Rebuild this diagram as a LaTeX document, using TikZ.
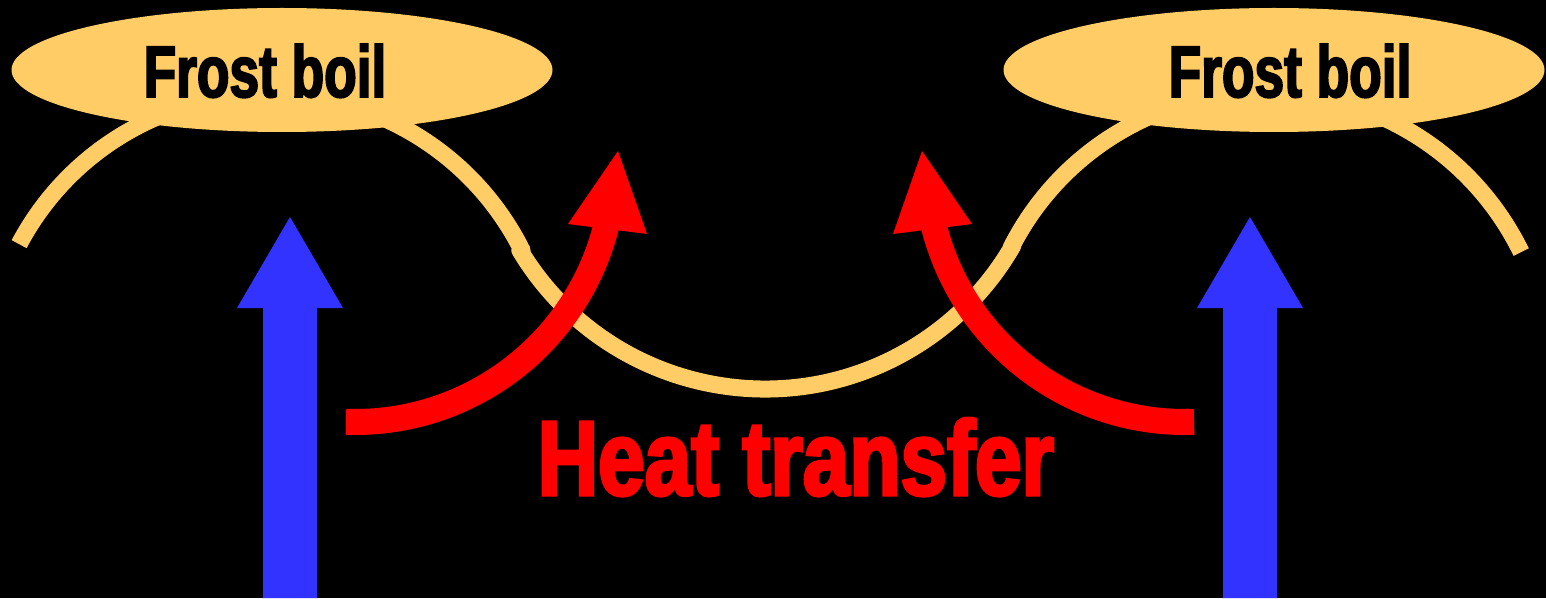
\documentclass[tikz,border=0pt]{standalone}
\usepackage{fontspec}
\usetikzlibrary{shapes.geometric}
\newfontfamily\fbfont[FakeStretch=0.73,FakeBold=2.5]{Liberation Sans Bold}
\newfontfamily\htfont[FakeStretch=0.79,FakeBold=3]{Liberation Sans Bold}
\definecolor{frost}{HTML}{FFCC66}
\definecolor{heatred}{HTML}{FF0000}
\definecolor{upblue}{HTML}{3333FF}
\tikzset{
  soil/.style={draw=frost, line width=17pt, line join=round},
  boil/.style={ellipse, fill=frost, inner sep=0pt, minimum width=541pt, minimum height=124pt},
  boiltext/.style={anchor=base, inner sep=0pt, font=\fbfont\fontsize{73}{73}\selectfont, text=black},
  heatshaft/.style={draw=heatred, line width=26pt},
  heathead/.style={fill=heatred},
  upflow/.style={fill=upblue},
  heattext/.style={anchor=base, inner sep=0pt, font=\htfont\fontsize{106}{106}\selectfont, text=heatred}
}
\begin{document}
\begin{tikzpicture}[x=1pt,y=1pt]
\fill[black] (0,0) rectangle (1546,598);
\useasboundingbox (0,0) rectangle (1546,598);
% ground surface
\draw[soil] (269,221) ++(152:283) arc[start angle=152, end angle=26.5, radius=283]
  -- ([shift={(211:286)}]765,495) arc[start angle=211, end angle=330, radius=286]
  -- ([shift={(153:285)}]1265,221) arc[start angle=153, end angle=26, radius=285];
% frost boils
\node[boil] (fb1) at (282,528) {};
\node[boil] (fb2) at (1274,528) {};
\node[boiltext] (t1) at (265,501) {Frost boil};
\node[boiltext] (t2) at (1290,501) {Frost boil};
% blue upward arrows
\fill[upflow] (263,0) -- (263,290) -- (237,290) -- (290,381) -- (343,290) -- (317,290) -- (317,0) -- cycle;
\fill[upflow] (1223,0) -- (1223,290) -- (1197,290) -- (1250,381) -- (1303,290) -- (1277,290) -- (1277,0) -- cycle;
% red heat arrows
\draw[heatshaft] (355,435) ++(268:259) arc[start angle=268, end angle=346.5, radius=259];
\fill[heathead] (568,374) -- (618,447) -- (647,364) -- cycle;
\draw[heatshaft] (1185,435) ++(272:259) arc[start angle=272, end angle=193.5, radius=259];
\fill[heathead] (972,374) -- (922,447) -- (893,364) -- cycle;
\node[heattext] (ht) at (796,103) {Heat transfer};
\end{tikzpicture}
\end{document}
